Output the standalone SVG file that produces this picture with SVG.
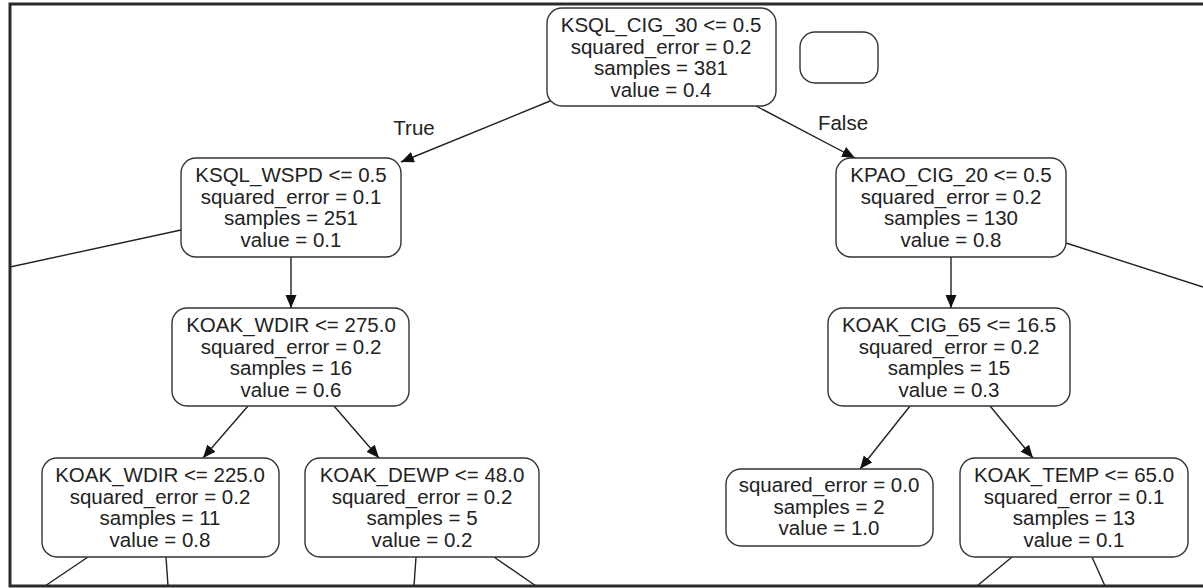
<svg xmlns="http://www.w3.org/2000/svg" width="1203" height="588" viewBox="0 0 1203 588">
<style>
.n rect{fill:#fff;stroke:#333;stroke-width:1.4}
.n text,.lbl{font-family:"Liberation Sans",Arial,sans-serif;font-size:20.5px;fill:#222;text-anchor:middle}
.e line{stroke:#222;stroke-width:1.4}
.frame{fill:none;stroke:#2a2a2a;stroke-width:3}
</style>
<defs>
<marker id="ah" markerUnits="userSpaceOnUse" markerWidth="14" markerHeight="12" refX="13" refY="5.5" orient="auto">
<path d="M0,0 L13,5.5 L0,11 z" fill="#111"/>
</marker>
</defs>
<rect width="1203" height="588" fill="#fff"/>
<g id="connectors" class="e">
<line x1="555" y1="99" x2="401" y2="162" marker-end="url(#ah)"/>
<line x1="756" y1="106" x2="855" y2="158" marker-end="url(#ah)"/>
<line x1="291" y1="257" x2="291" y2="308" marker-end="url(#ah)"/>
<line x1="951" y1="257" x2="951" y2="308" marker-end="url(#ah)"/>
<line x1="248" y1="406" x2="203" y2="458" marker-end="url(#ah)"/>
<line x1="334" y1="406" x2="379" y2="458" marker-end="url(#ah)"/>
<line x1="910" y1="406" x2="860" y2="469" marker-end="url(#ah)"/>
<line x1="990" y1="406" x2="1033" y2="458" marker-end="url(#ah)"/>
<line x1="181" y1="230" x2="10" y2="267"/>
<line x1="1066" y1="243" x2="1203" y2="287"/>
<line x1="88" y1="557" x2="45" y2="586"/>
<line x1="166" y1="557" x2="168" y2="586"/>
<line x1="416" y1="557" x2="414" y2="586"/>
<line x1="494" y1="557" x2="536" y2="586"/>
<line x1="1012" y1="557" x2="977" y2="586"/>
<line x1="1092" y1="557" x2="1105" y2="586"/>
</g>
<text class="lbl" x="414" y="135">True</text>
<text class="lbl" x="843" y="130">False</text>
<g id="root" class="n">
<rect x="547" y="8" width="229" height="98" rx="15"/>
<text x="661" y="32">KSQL_CIG_30 &lt;= 0.5</text>
<text x="661" y="53.5">squared_error = 0.2</text>
<text x="661" y="75">samples = 381</text>
<text x="661" y="96.5">value = 0.4</text>
</g>
<g id="empty" class="n">
<rect x="800" y="32" width="78" height="51" rx="15"/>
</g>
<g id="ksql_wspd" class="n">
<rect x="181" y="158" width="220" height="99" rx="15"/>
<text x="291" y="182">KSQL_WSPD &lt;= 0.5</text>
<text x="291" y="203.5">squared_error = 0.1</text>
<text x="291" y="225">samples = 251</text>
<text x="291" y="246.5">value = 0.1</text>
</g>
<g id="kpao_cig_20" class="n">
<rect x="836" y="158" width="230" height="99" rx="15"/>
<text x="951" y="182">KPAO_CIG_20 &lt;= 0.5</text>
<text x="951" y="203.5">squared_error = 0.2</text>
<text x="951" y="225">samples = 130</text>
<text x="951" y="246.5">value = 0.8</text>
</g>
<g id="koak_wdir_275" class="n">
<rect x="172" y="308" width="237" height="98" rx="15"/>
<text x="291" y="332">KOAK_WDIR &lt;= 275.0</text>
<text x="291" y="353.5">squared_error = 0.2</text>
<text x="291" y="375">samples = 16</text>
<text x="291" y="396.5">value = 0.6</text>
</g>
<g id="koak_cig_65" class="n">
<rect x="828" y="308" width="242" height="98" rx="15"/>
<text x="949" y="332">KOAK_CIG_65 &lt;= 16.5</text>
<text x="949" y="353.5">squared_error = 0.2</text>
<text x="949" y="375">samples = 15</text>
<text x="949" y="396.5">value = 0.3</text>
</g>
<g id="koak_wdir_225" class="n">
<rect x="42" y="458" width="237" height="99" rx="15"/>
<text x="160" y="482">KOAK_WDIR &lt;= 225.0</text>
<text x="160" y="503.5">squared_error = 0.2</text>
<text x="160" y="525">samples = 11</text>
<text x="160" y="546.5">value = 0.8</text>
</g>
<g id="koak_dewp" class="n">
<rect x="305" y="458" width="234" height="99" rx="15"/>
<text x="422" y="482">KOAK_DEWP &lt;= 48.0</text>
<text x="422" y="503.5">squared_error = 0.2</text>
<text x="422" y="525">samples = 5</text>
<text x="422" y="546.5">value = 0.2</text>
</g>
<g id="leaf" class="n">
<rect x="726" y="469" width="207" height="77" rx="15"/>
<text x="829" y="492">squared_error = 0.0</text>
<text x="829" y="514">samples = 2</text>
<text x="829" y="535">value = 1.0</text>
</g>
<g id="koak_temp" class="n">
<rect x="960" y="458" width="228" height="99" rx="15"/>
<text x="1074" y="482">KOAK_TEMP &lt;= 65.0</text>
<text x="1074" y="503.5">squared_error = 0.1</text>
<text x="1074" y="525">samples = 13</text>
<text x="1074" y="546.5">value = 0.1</text>
</g>
<path class="frame" d="M1206,4 L10,4 L10,586 L1206,586"/>
</svg>
